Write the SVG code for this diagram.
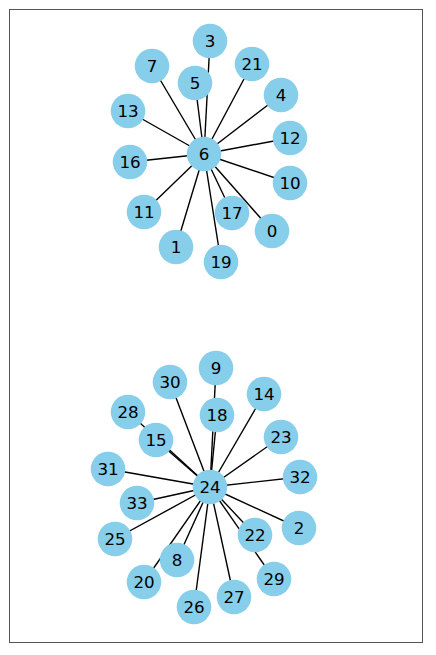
<svg xmlns="http://www.w3.org/2000/svg" width="436" height="655" viewBox="0 0 436 655">
<style>
.n circle{fill:#87CEEB}
.n text{font-family:"DejaVu Sans",sans-serif;font-size:16.7px;fill:#000;text-anchor:middle;dominant-baseline:central}
#edges line{stroke:#000;stroke-width:1.4}
</style>
<rect x="0" y="0" width="436" height="655" fill="#fff"/>
<rect x="9.5" y="9.5" width="413" height="633" fill="none" stroke="#555" stroke-width="1"/>
<g id="edges">
<line x1="204" y1="154" x2="210" y2="41"/>
<line x1="204" y1="154" x2="152" y2="66"/>
<line x1="204" y1="154" x2="195" y2="83"/>
<line x1="204" y1="154" x2="252" y2="64"/>
<line x1="204" y1="154" x2="281" y2="95"/>
<line x1="204" y1="154" x2="128" y2="111"/>
<line x1="204" y1="154" x2="290" y2="138"/>
<line x1="204" y1="154" x2="130" y2="162"/>
<line x1="204" y1="154" x2="290" y2="183"/>
<line x1="204" y1="154" x2="144" y2="212"/>
<line x1="204" y1="154" x2="232" y2="213"/>
<line x1="204" y1="154" x2="272" y2="231"/>
<line x1="204" y1="154" x2="176" y2="247"/>
<line x1="204" y1="154" x2="221" y2="262"/>
<line x1="210" y1="487" x2="216" y2="368"/>
<line x1="210" y1="487" x2="170" y2="382"/>
<line x1="210" y1="487" x2="264" y2="394"/>
<line x1="210" y1="487" x2="128" y2="412"/>
<line x1="210" y1="487" x2="217" y2="415"/>
<line x1="210" y1="487" x2="156" y2="440"/>
<line x1="210" y1="487" x2="281" y2="437"/>
<line x1="210" y1="487" x2="108" y2="469"/>
<line x1="210" y1="487" x2="300" y2="477"/>
<line x1="210" y1="487" x2="137" y2="503"/>
<line x1="210" y1="487" x2="115" y2="539"/>
<line x1="210" y1="487" x2="299" y2="528"/>
<line x1="210" y1="487" x2="255" y2="535"/>
<line x1="210" y1="487" x2="177" y2="560"/>
<line x1="210" y1="487" x2="274" y2="579"/>
<line x1="210" y1="487" x2="144" y2="582"/>
<line x1="210" y1="487" x2="234" y2="597"/>
<line x1="210" y1="487" x2="194" y2="607"/>
</g>
<g id="n6" class="n"><circle cx="204" cy="154" r="17.3"/><text x="204" y="154">6</text></g>
<g id="n3" class="n"><circle cx="210" cy="41" r="17.3"/><text x="210" y="41">3</text></g>
<g id="n7" class="n"><circle cx="152" cy="66" r="17.3"/><text x="152" y="66">7</text></g>
<g id="n5" class="n"><circle cx="195" cy="83" r="17.3"/><text x="195" y="83">5</text></g>
<g id="n21" class="n"><circle cx="252" cy="64" r="17.3"/><text x="252" y="64">21</text></g>
<g id="n4" class="n"><circle cx="281" cy="95" r="17.3"/><text x="281" y="95">4</text></g>
<g id="n13" class="n"><circle cx="128" cy="111" r="17.3"/><text x="128" y="111">13</text></g>
<g id="n12" class="n"><circle cx="290" cy="138" r="17.3"/><text x="290" y="138">12</text></g>
<g id="n16" class="n"><circle cx="130" cy="162" r="17.3"/><text x="130" y="162">16</text></g>
<g id="n10" class="n"><circle cx="290" cy="183" r="17.3"/><text x="290" y="183">10</text></g>
<g id="n11" class="n"><circle cx="144" cy="212" r="17.3"/><text x="144" y="212">11</text></g>
<g id="n17" class="n"><circle cx="232" cy="213" r="17.3"/><text x="232" y="213">17</text></g>
<g id="n0" class="n"><circle cx="272" cy="231" r="17.3"/><text x="272" y="231">0</text></g>
<g id="n1" class="n"><circle cx="176" cy="247" r="17.3"/><text x="176" y="247">1</text></g>
<g id="n19" class="n"><circle cx="221" cy="262" r="17.3"/><text x="221" y="262">19</text></g>
<g id="n24" class="n"><circle cx="210" cy="487" r="17.3"/><text x="210" y="487">24</text></g>
<g id="n9" class="n"><circle cx="216" cy="368" r="17.3"/><text x="216" y="368">9</text></g>
<g id="n30" class="n"><circle cx="170" cy="382" r="17.3"/><text x="170" y="382">30</text></g>
<g id="n14" class="n"><circle cx="264" cy="394" r="17.3"/><text x="264" y="394">14</text></g>
<g id="n28" class="n"><circle cx="128" cy="412" r="17.3"/><text x="128" y="412">28</text></g>
<g id="n18" class="n"><circle cx="217" cy="415" r="17.3"/><text x="217" y="415">18</text></g>
<g id="n15" class="n"><circle cx="156" cy="440" r="17.3"/><text x="156" y="440">15</text></g>
<g id="n23" class="n"><circle cx="281" cy="437" r="17.3"/><text x="281" y="437">23</text></g>
<g id="n31" class="n"><circle cx="108" cy="469" r="17.3"/><text x="108" y="469">31</text></g>
<g id="n32" class="n"><circle cx="300" cy="477" r="17.3"/><text x="300" y="477">32</text></g>
<g id="n33" class="n"><circle cx="137" cy="503" r="17.3"/><text x="137" y="503">33</text></g>
<g id="n25" class="n"><circle cx="115" cy="539" r="17.3"/><text x="115" y="539">25</text></g>
<g id="n2" class="n"><circle cx="299" cy="528" r="17.3"/><text x="299" y="528">2</text></g>
<g id="n22" class="n"><circle cx="255" cy="535" r="17.3"/><text x="255" y="535">22</text></g>
<g id="n8" class="n"><circle cx="177" cy="560" r="17.3"/><text x="177" y="560">8</text></g>
<g id="n29" class="n"><circle cx="274" cy="579" r="17.3"/><text x="274" y="579">29</text></g>
<g id="n20" class="n"><circle cx="144" cy="582" r="17.3"/><text x="144" y="582">20</text></g>
<g id="n27" class="n"><circle cx="234" cy="597" r="17.3"/><text x="234" y="597">27</text></g>
<g id="n26" class="n"><circle cx="194" cy="607" r="17.3"/><text x="194" y="607">26</text></g>
</svg>
